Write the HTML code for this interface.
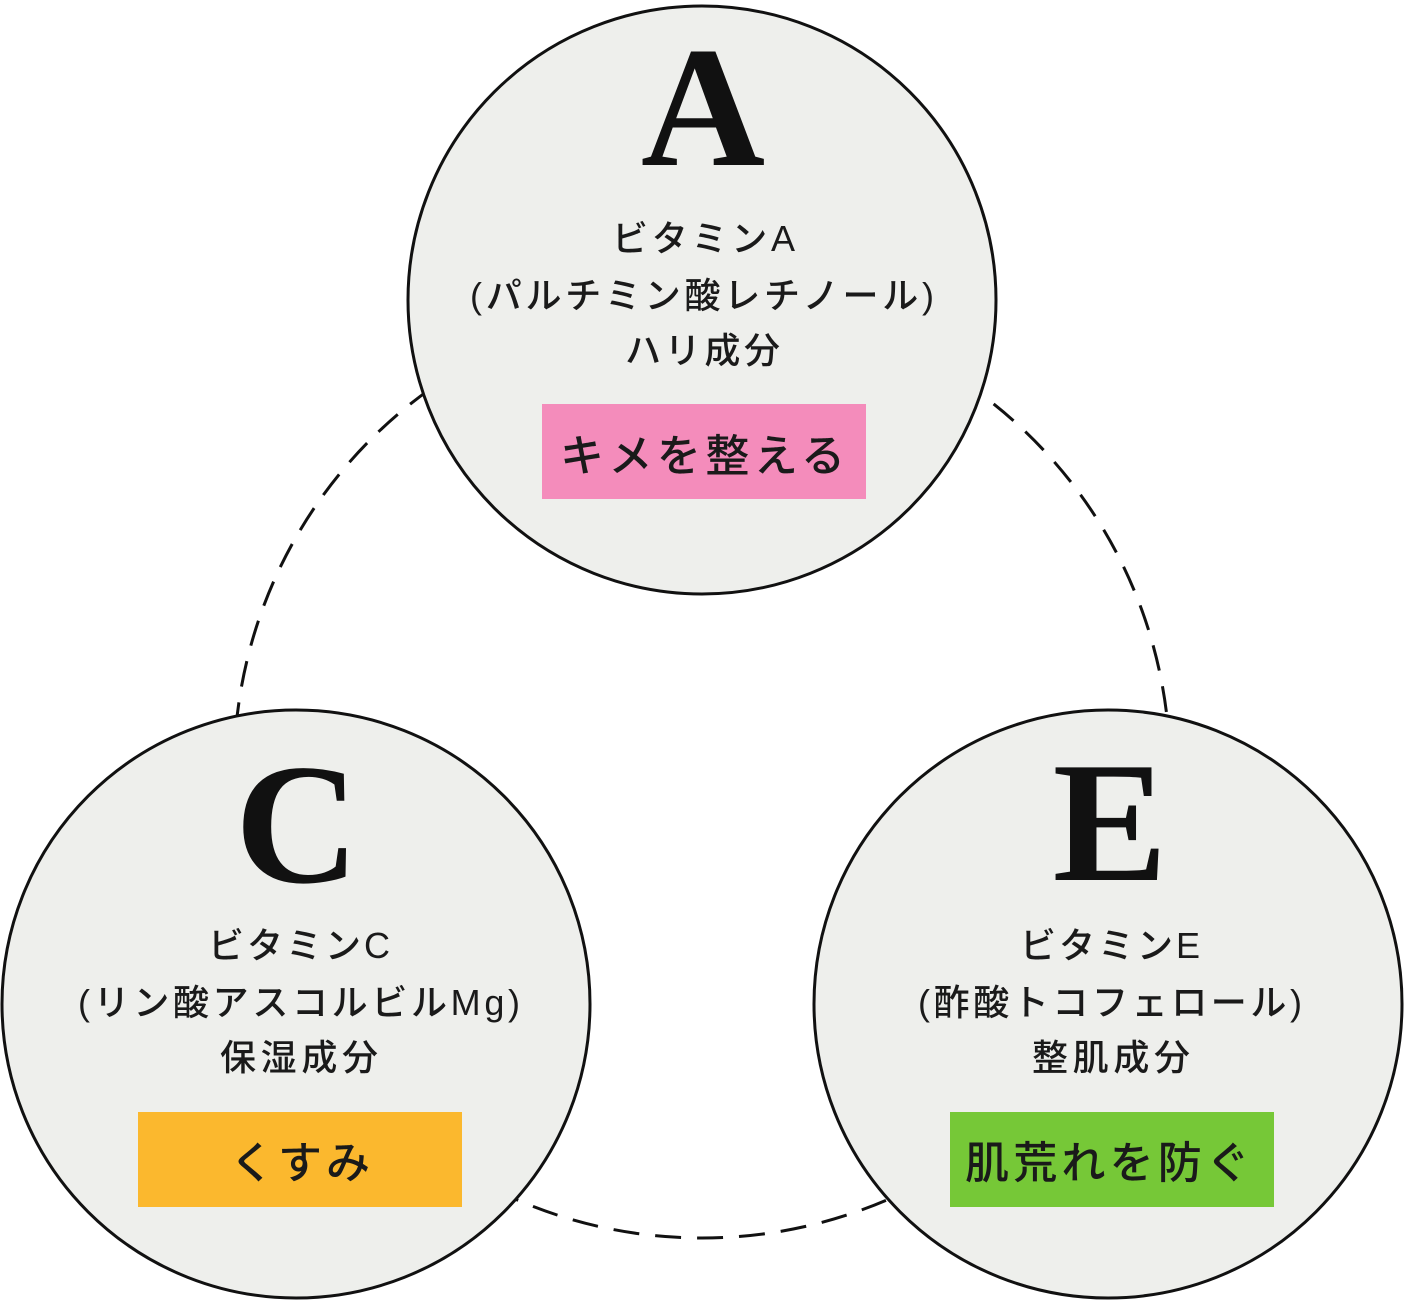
<!DOCTYPE html>
<html><head><meta charset="utf-8"><style>html,body{margin:0;padding:0;background:#fff}</style></head>
<body>
<svg width="1404" height="1300" viewBox="0 0 1404 1300" xmlns="http://www.w3.org/2000/svg">
<circle cx="702" cy="770" r="468" fill="none" stroke="#111" stroke-width="3" stroke-dasharray="26 16"/>
<g fill="#eeefec" stroke="#111" stroke-width="3">
<circle cx="702" cy="300" r="294"/>
<circle cx="296" cy="1004" r="294"/>
<circle cx="1108" cy="1004" r="294"/>
</g>
<rect x="542" y="404" width="324" height="95" fill="#f48cbb"/>
<rect x="138" y="1112" width="324" height="95" fill="#fbb82e"/>
<rect x="950" y="1112" width="324" height="95" fill="#76c837"/>
<g font-family="'Liberation Serif', serif" font-size="172" font-weight="bold" fill="#111" text-anchor="middle">
<text x="703" y="165">A</text>
<text x="297" y="882">C</text>
<text x="1110" y="880">E</text>
</g>
<g font-family="'Liberation Sans','Noto Sans CJK JP',sans-serif" font-size="36" font-weight="500" fill="#1a1a1a" lengthAdjust="spacingAndGlyphs">
<text x="612" y="251" textLength="183">ビタミンA</text>
<text x="470" y="308" textLength="464">(パルチミン酸レチノール)</text>
<text x="625" y="363" textLength="155">ハリ成分</text>
<text x="208" y="958" textLength="182">ビタミンC</text>
<text x="78" y="1015" textLength="442">(リン酸アスコルビルMg)</text>
<text x="220" y="1070" textLength="158">保湿成分</text>
<text x="1020" y="958" textLength="180">ビタミンE</text>
<text x="918" y="1015" textLength="384">(酢酸トコフェロール)</text>
<text x="1032" y="1070" textLength="158">整肌成分</text>
<text x="560" y="471" font-size="44" textLength="285">キメを整える</text>
<text x="230" y="1178" font-size="44" textLength="140">くすみ</text>
<text x="965" y="1178" font-size="44" textLength="285">肌荒れを防ぐ</text>
</g>
</svg>
</body></html>
